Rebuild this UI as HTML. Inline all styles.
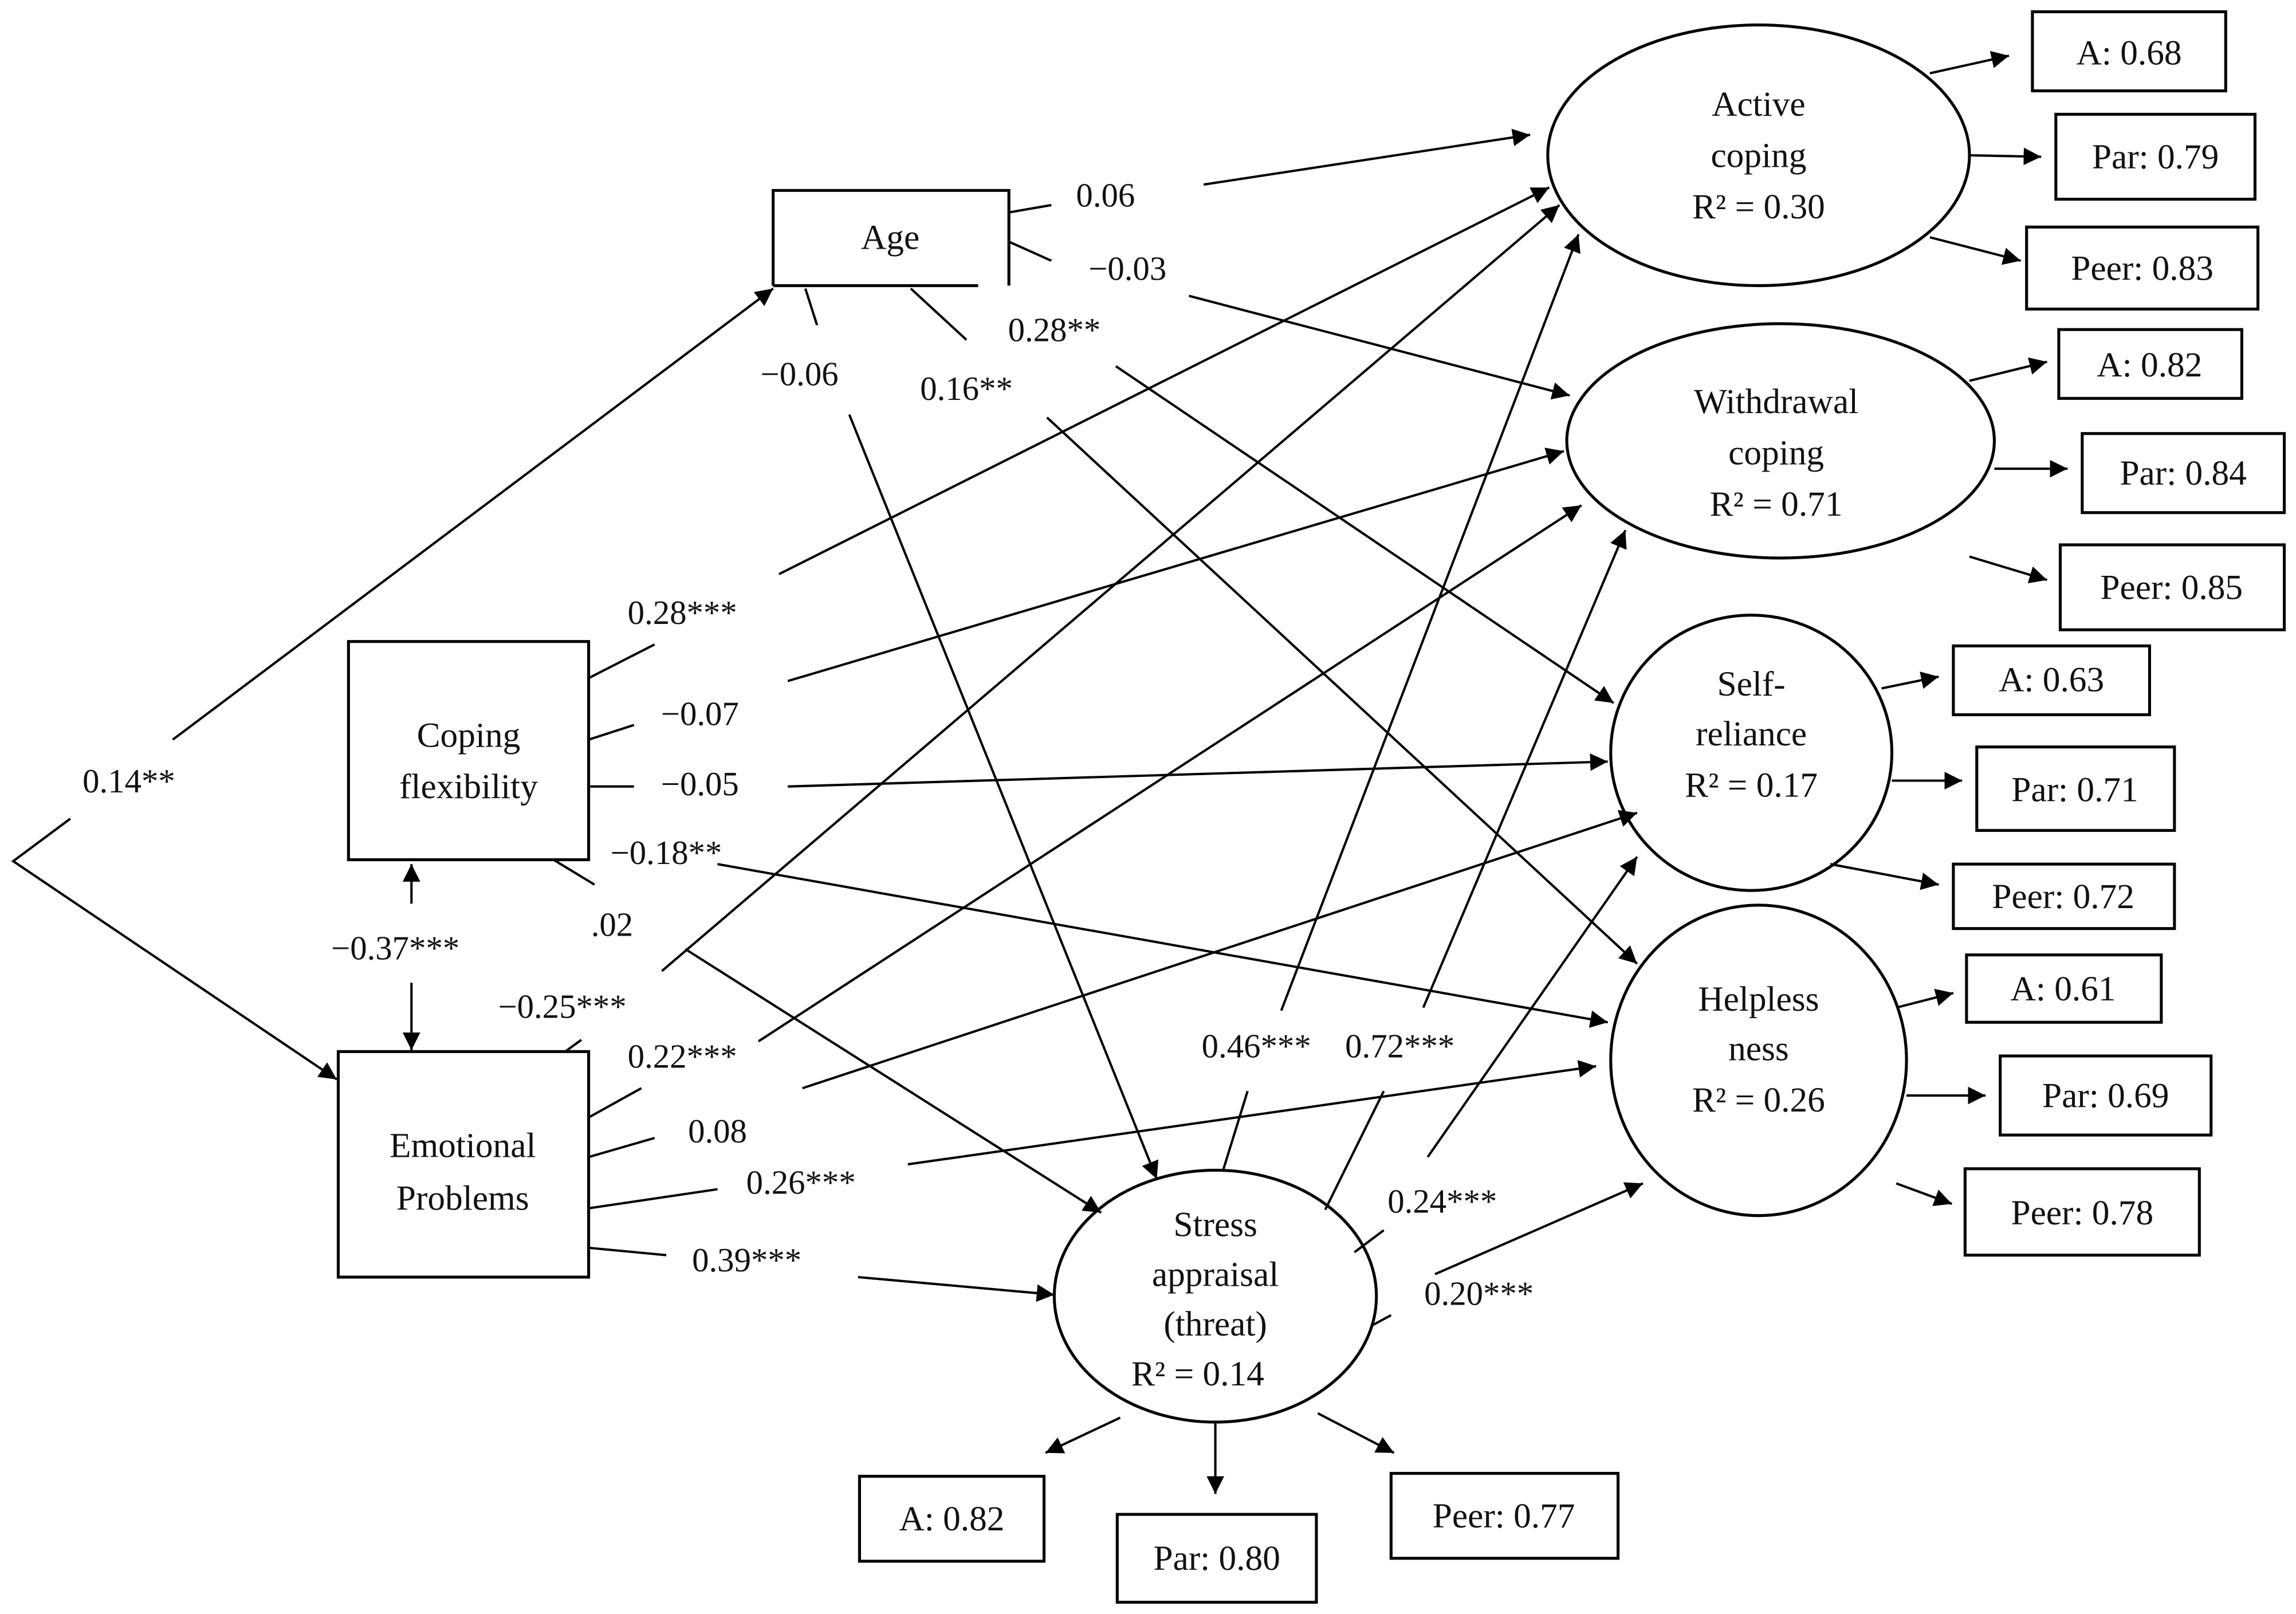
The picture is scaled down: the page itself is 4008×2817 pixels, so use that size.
<!DOCTYPE html>
<html><head><meta charset="utf-8"><style>
html,body{margin:0;padding:0;background:#fff}
svg{display:block}
text{font-family:"Liberation Serif",serif;fill:#111}
.l{font-size:23px;fill:#333}
.n{font-size:24px}
</style></head><body>
<svg width="4008" height="2817" viewBox="0 0 1568 1102" xmlns="http://www.w3.org/2000/svg">
<defs><marker id="a" viewBox="0 0 10 10" refX="10" refY="5" markerWidth="12" markerHeight="12" markerUnits="userSpaceOnUse" orient="auto"><path d="M0,0L10,5L0,10z" fill="#000"/></marker></defs>
<g fill="none" stroke="#000" stroke-width="2">
<path d="M528,195V130H689V195M528,195H668"/>
<rect x="238" y="438" width="164" height="149"/>
<rect x="231" y="718" width="171" height="154"/>
<ellipse cx="1201" cy="106" rx="144" ry="89"/>
<ellipse cx="1216" cy="301" rx="146" ry="80"/>
<ellipse cx="1196" cy="514" rx="96" ry="94"/>
<ellipse cx="1201" cy="724" rx="101" ry="106"/>
<ellipse cx="830" cy="885" rx="110" ry="86"/>
<rect x="1388" y="8" width="132" height="54"/>
<rect x="1404" y="78" width="136" height="58"/>
<rect x="1384" y="155" width="158" height="56"/>
<rect x="1406" y="225" width="125" height="47"/>
<rect x="1422" y="296" width="138" height="54"/>
<rect x="1407" y="372" width="153" height="58"/>
<rect x="1334" y="441" width="134" height="47"/>
<rect x="1350" y="510" width="135" height="57"/>
<rect x="1334" y="590" width="151" height="44"/>
<rect x="1343" y="652" width="133" height="46"/>
<rect x="1366" y="721" width="144" height="54"/>
<rect x="1342" y="798" width="160" height="59"/>
<rect x="587" y="1008" width="126" height="58"/>
<rect x="763" y="1034" width="136" height="60"/>
<rect x="950" y="1006" width="155" height="58"/>
</g>
<g fill="none" stroke="#000" stroke-width="1.6" marker-end="url(#a)">
<path d="M1318,50L1372,38"/><path d="M1345,106L1394,107"/><path d="M1318,162L1380,178"/>
<path d="M1345,260L1398,247"/><path d="M1362,320L1412,320"/><path d="M1345,380L1398,396"/>
<path d="M1285,470L1324,462"/><path d="M1292,533L1340,533"/><path d="M1250,590L1324,604"/>
<path d="M1295,688L1334,678"/><path d="M1302,748L1356,748"/><path d="M1295,808L1333,822"/>
<path d="M765,968L714,992"/><path d="M830,972L830,1020"/><path d="M900,965L952,992"/>
<path d="M118,505L528,197"/>
<path d="M48,559L9,588L230,737"/>
<path d="M281,617L281,590"/><path d="M281,671L281,717"/>
<path d="M822,126L1045,92"/>
<path d="M812,202L1072,270"/>
<path d="M762,250L1102,480"/>
<path d="M580,283L790,805"/>
<path d="M715,285L1118,658"/>
<path d="M532,392L1058,128"/>
<path d="M538,465L1068,308"/>
<path d="M538,537L1098,520"/>
<path d="M490,590L1098,698"/>
<path d="M468,648L752,828"/>
<path d="M452,663L1065,140"/>
<path d="M518,711L1080,345"/>
<path d="M548,743L1118,555"/>
<path d="M620,795L1090,728"/>
<path d="M586,872L720,884"/>
<path d="M875,690L1078,160"/>
<path d="M972,688L1110,362"/>
<path d="M975,790L1118,585"/>
<path d="M980,870L1122,808"/>
</g>
<g fill="none" stroke="#000" stroke-width="1.6">
<path d="M689,145L718,140"/><path d="M689,165L718,178"/>
<path d="M550,197L558,222"/><path d="M622,197L660,232"/>
<path d="M402,463L447,440"/><path d="M402,505L433,495"/><path d="M402,537L433,537"/>
<path d="M378,587L406,604"/>
<path d="M386,718L397,710"/><path d="M402,763L438,743"/><path d="M402,790L447,777"/>
<path d="M402,825L490,812"/><path d="M402,852L455,857"/>
<path d="M835,800L852,745"/><path d="M905,826L945,745"/>
<path d="M925,855L945,840"/><path d="M937,905L950,898"/>
</g>
<g class="n" text-anchor="middle">
<text x="608" y="170">Age</text>
<text x="320" y="510">Coping</text><text x="320" y="545">flexibility</text>
<text x="316" y="790">Emotional</text><text x="316" y="826">Problems</text>
<text x="1201" y="79">Active</text><text x="1201" y="114">coping</text><text x="1201" y="149">R² = 0.30</text>
<text x="1213" y="282">Withdrawal</text><text x="1213" y="317">coping</text><text x="1213" y="352">R² = 0.71</text>
<text x="1196" y="475">Self-</text><text x="1196" y="509">reliance</text><text x="1196" y="544">R² = 0.17</text>
<text x="1201" y="690">Helpless</text><text x="1201" y="724">ness</text><text x="1201" y="759">R² = 0.26</text>
<text x="830" y="844">Stress</text><text x="830" y="878">appraisal</text><text x="830" y="912">(threat)</text><text x="818" y="946">R² = 0.14</text>
<text x="1454" y="44">A: 0.68</text><text x="1472" y="115">Par: 0.79</text><text x="1463" y="191">Peer: 0.83</text>
<text x="1468" y="257">A: 0.82</text><text x="1491" y="331">Par: 0.84</text><text x="1483" y="409">Peer: 0.85</text>
<text x="1401" y="472">A: 0.63</text><text x="1417" y="547">Par: 0.71</text><text x="1409" y="620">Peer: 0.72</text>
<text x="1409" y="683">A: 0.61</text><text x="1438" y="756">Par: 0.69</text><text x="1422" y="836">Peer: 0.78</text>
<text x="650" y="1045">A: 0.82</text><text x="831" y="1072">Par: 0.80</text><text x="1027" y="1043">Peer: 0.77</text>
</g>
<g class="l" text-anchor="middle">
<text x="88" y="541">0.14**</text>
<text x="270" y="655">−0.37***</text>
<text x="755" y="141">0.06</text>
<text x="770" y="191">−0.03</text>
<text x="720" y="233">0.28**</text>
<text x="660" y="273">0.16**</text>
<text x="546" y="263">−0.06</text>
<text x="466" y="426">0.28***</text>
<text x="478" y="495">−0.07</text>
<text x="478" y="543">−0.05</text>
<text x="455" y="590">−0.18**</text>
<text x="418" y="639">.02</text>
<text x="384" y="695">−0.25***</text>
<text x="466" y="729">0.22***</text>
<text x="490" y="780">0.08</text>
<text x="547" y="815">0.26***</text>
<text x="510" y="868">0.39***</text>
<text x="858" y="722">0.46***</text>
<text x="956" y="722">0.72***</text>
<text x="985" y="828">0.24***</text>
<text x="1010" y="891">0.20***</text>
</g>
</svg>
</body></html>
